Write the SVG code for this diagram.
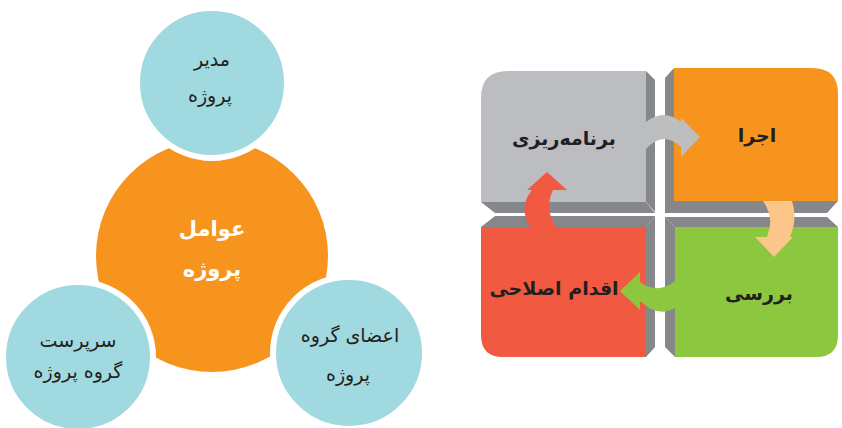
<svg xmlns="http://www.w3.org/2000/svg" width="842" height="428" viewBox="0 0 842 428">
<style>
.teal{fill:#a0d9df;stroke:#ffffff;stroke-width:6}
.t{font-family:"DejaVu Sans",sans-serif;text-anchor:middle;fill:#231f20}
.reg{font-size:19px}
.wb{font-size:21px;font-weight:bold;fill:#ffffff}
.tb{font-size:19px;font-weight:bold}
.bev{fill:#86878b}
</style>
<rect width="842" height="428" fill="#ffffff"/>
<g id="center">
<circle cx="212" cy="256" r="116" fill="#f7941e"/>
<text class="t wb" x="212" y="236">عوامل</text>
<text class="t wb" x="212" y="276">پروژه</text>
</g>
<g id="manager">
<circle class="teal" cx="212" cy="83" r="75"/>
<text class="t reg" x="212" y="66">مدیر</text>
<text class="t reg" x="210" y="102">پروژه</text>
</g>
<g id="supervisor">
<circle class="teal" cx="78" cy="357" r="75"/>
<text class="t reg" x="78" y="347">سرپرست</text>
<text class="t reg" x="78" y="378">گروه پروژه</text>
</g>
<g id="members">
<circle class="teal" cx="349" cy="353" r="76"/>
<text class="t reg" x="350" y="342">اعضای گروه</text>
<text class="t reg" x="348" y="381">پروژه</text>
</g>
<g id="planning">
<polygon class="bev" points="646,71 655,80 655,212 646,202"/>
<polygon class="bev" points="481,202 646,202 655,213 495,213"/>
<path d="M481,98 Q481,71 508,71 L646,71 L646,202 L481,202 Z" fill="#bcbdc0"/>
<text class="t tb" x="564" y="145">برنامه&#x200C;ریزی</text>
</g>
<g id="execute">
<polygon class="bev" points="674,68 674,201 665,213 665,78"/>
<polygon class="bev" points="665,201 838,201 827,213 665,213"/>
<path d="M674,68 L812,68 Q838,68 838,94 L838,201 L674,201 Z" fill="#f7941e"/>
<text class="t tb" x="757" y="142">اجرا</text>
</g>
<g id="review">
<polygon class="bev" points="665,217 675,227 675,357 665,347"/>
<polygon class="bev" points="665,217 827,217 838,227 675,227"/>
<path d="M675,227 L838,227 L838,335 Q838,357 816,357 L675,357 Z" fill="#8dc63f"/>
<text class="t tb" x="759" y="300">بررسی</text>
</g>
<g id="corrective">
<polygon class="bev" points="655,216 655,347 646,357 646,227"/>
<polygon class="bev" points="495,216 655,216 646,227 481,227"/>
<path d="M481,227 L646,227 L646,357 L503,357 Q481,357 481,335 Z" fill="#f15a40"/>
<text class="t tb" x="554" y="295">اقدام اصلاحی</text>
</g>
<g id="connectors">
<path d="M646,122 Q664,108 681,122 L681,118 L700,137 L681,157 L681,147 Q663,130 646,149 Z" fill="#bcbec0"/>
<path d="M763,201 Q775,218 767,237 L755,237 L774,257 L793,237 L790,237 Q798,218 792,201 Z" fill="#fcc589"/>
<path d="M675,281 Q658,295 640,282 L640,272 L620,291 L640,310 L640,301 Q658,318 675,308 Z" fill="#8dc63f"/>
<path d="M530,227 Q518,207 532,190 L527,190 L547,172 L567,190 L553,190 Q544,209 556,227 Z" fill="#f15a40"/>
</g>
</svg>
